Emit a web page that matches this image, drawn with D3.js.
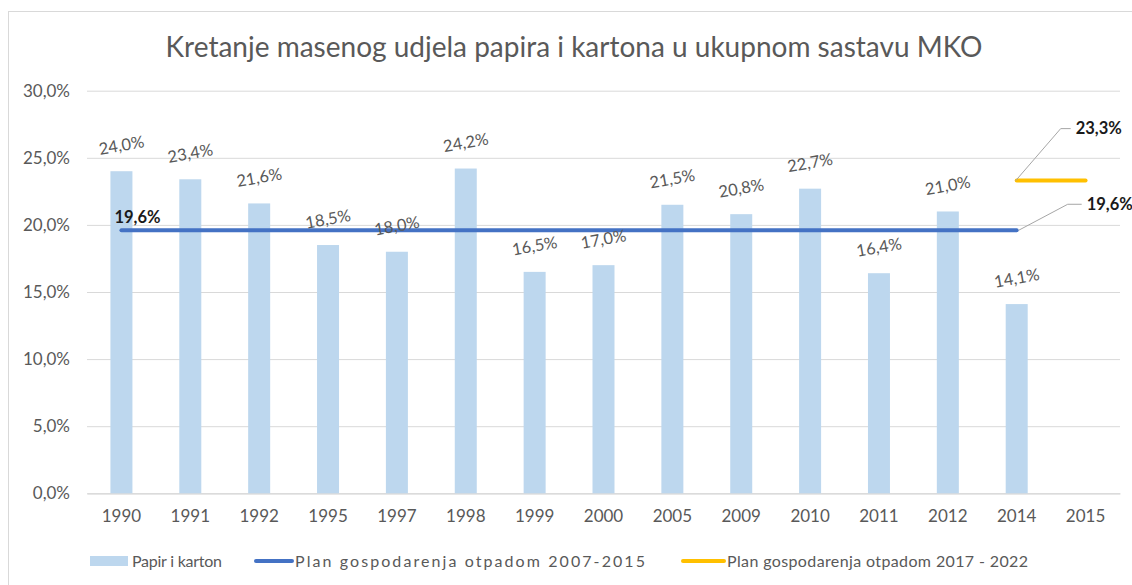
<!DOCTYPE html>
<html>
<head>
<meta charset="utf-8">
<script src="https://cdn.jsdelivr.net/npm/d3@7"></script>
<style>
    html, body { margin: 0; padding: 0; background: #fff; }
    text { font-family: Lato, 'Open Sans', sans-serif; }
</style>
</head>
<body>
<div id="chart"></div>
<script>
'use strict';

// ------------ DATA ---------------- //

const YEARS       = ['1990', '1991', '1992', '1995', '1997', '1998', '1999', '2000', '2005', '2009', '2010', '2011', '2012', '2014', '2015'];
const PAPER_SHARE = [24.0, 23.4, 21.6, 18.5, 18.0, 24.2, 16.5, 17.0, 21.5, 20.8, 22.7, 16.4, 21.0, 14.1, null];
const PLAN_2007   = [19.6, 19.6, 19.6, 19.6, 19.6, 19.6, 19.6, 19.6, 19.6, 19.6, 19.6, 19.6, 19.6, 19.6, null];
const PLAN_2017   = [null, null, null, null, null, null, null, null, null, null, null, null, null, 23.3, 23.3];
const Y_TICKS     = [0, 5, 10, 15, 20, 25, 30];
const TITLE       = 'Kretanje masenog udjela papira i kartona u ukupnom sastavu MKO';
const LEGEND      = ['Papir i karton', 'Plan gospodarenja otpadom 2007-2015', 'Plan gospodarenja otpadom 2017 - 2022'];

const COLORS = { bar: '#BDD7EE', plan1: '#4472C4', plan2: '#FFC000', text: '#595959', grid: '#D9D9D9' };

const fmt = v => v.toFixed(1).replace('.', ',') + '%';

// ---------------  DRAWING ------------- //

const drawChart = () => {
    const width  = 1132;
    const height = 585;
    const plot   = { left: 87, right: 1120, top: 90.7, bottom: 493.3 };

    const svg = d3.select('#chart')
        .append('svg')
        .attr('width', width)
        .attr('height', height);

    // outer frame
    svg.append('rect')
        .attr('x', 8.5).attr('y', 11.5)
        .attr('width', width).attr('height', height)
        .attr('fill', '#fff').attr('stroke', COLORS.grid);

    svg.append('text')
        .attr('x', 574).attr('y', 57)
        .attr('text-anchor', 'middle')
        .attr('font-size', 28)
        .attr('fill', COLORS.text)
        .text(TITLE);

    const x = d3.scaleBand().domain(YEARS).range([plot.left, plot.right]);
    const y = d3.scaleLinear().domain([0, 30]).range([plot.bottom, plot.top]);
    const cx = yr => x(yr) + x.bandwidth() / 2;

    // gridlines + y labels
    const yAxis = svg.append('g')
        .attr('transform', `translate(${plot.left},0)`)
        .call(d3.axisLeft(y).tickValues(Y_TICKS).tickSize(-(plot.right - plot.left)).tickPadding(17).tickFormat(fmt));
    yAxis.select('.domain').remove();
    yAxis.selectAll('line').attr('stroke', COLORS.grid);
    yAxis.selectAll('text').attr('fill', COLORS.text).attr('font-size', 17).attr('font-family', 'Lato');

    // x labels
    const xAxis = svg.append('g')
        .attr('transform', `translate(0,${plot.bottom})`)
        .call(d3.axisBottom(x).tickSize(0).tickPadding(17));
    xAxis.select('.domain').attr('stroke', COLORS.grid).attr('stroke-width', 1.2);
    xAxis.selectAll('text').attr('fill', COLORS.text).attr('font-size', 17).attr('font-family', 'Lato');

    // bars
    const barData = YEARS.map((yr, i) => ({ yr, v: PAPER_SHARE[i] })).filter(d => d.v !== null);
    const barW = 22;

    svg.append('g').selectAll('rect')
        .data(barData)
        .enter()
        .append('rect')
        .attr('x', d => cx(d.yr) - barW / 2)
        .attr('y', d => y(d.v))
        .attr('width', barW)
        .attr('height', d => plot.bottom - y(d.v))
        .attr('fill', COLORS.bar);

    // lines
    const line = d3.line()
        .defined(d => d.v !== null)
        .x(d => cx(d.yr))
        .y(d => y(d.v));

    const plan1 = YEARS.map((yr, i) => ({ yr, v: PLAN_2007[i] }));
    const plan2 = YEARS.map((yr, i) => ({ yr, v: PLAN_2017[i] }));

    svg.append('path').datum(plan1).attr('d', line)
        .attr('fill', 'none').attr('stroke', COLORS.plan1).attr('stroke-width', 4).attr('stroke-linecap', 'round');
    svg.append('path').datum(plan2).attr('d', line)
        .attr('fill', 'none').attr('stroke', COLORS.plan2).attr('stroke-width', 4).attr('stroke-linecap', 'round');

    // bar value labels (slightly tilted)
    svg.append('g').selectAll('text')
        .data(barData)
        .enter()
        .append('text')
        .attr('transform', d => `translate(${cx(d.yr)},${y(d.v) - 26}) rotate(-10)`)
        .attr('text-anchor', 'middle')
        .attr('dy', '0.35em')
        .attr('font-size', 16.5)
        .attr('fill', COLORS.text)
        .text(d => fmt(d.v));

    // plan labels
    const p1 = plan1.filter(d => d.v !== null);
    const p2 = plan2.filter(d => d.v !== null);
    const first1 = p1[0], last1 = p1[p1.length - 1], first2 = p2[0];

    svg.append('text')
        .attr('x', cx(first1.yr) - 7).attr('y', y(first1.v) - 7)
        .attr('font-size', 16.5).attr('font-weight', 'bold').attr('fill', '#1a1a1a')
        .text(fmt(first1.v));

    const leader = (x0, y0, dx, dy, len, label) => {
        svg.append('polyline')
            .attr('points', `${x0},${y0} ${x0 + dx},${y0 - dy} ${x0 + dx + len},${y0 - dy}`)
            .attr('fill', 'none').attr('stroke', '#A6A6A6').attr('stroke-width', 1);
        svg.append('text')
            .attr('x', x0 + dx + len + 5).attr('y', y0 - dy)
            .attr('dy', '0.35em')
            .attr('font-size', 16.5).attr('font-weight', 'bold').attr('fill', '#1a1a1a')
            .text(label);
    };
    leader(cx(last1.yr) + 2, y(last1.v), 49, 26, 14, fmt(last1.v));
    leader(cx(first2.yr) - 1, y(first2.v), 45, 52, 10, fmt(first2.v));

    // legend
    const lg = svg.append('g').attr('transform', 'translate(0,561)');
    lg.append('rect').attr('x', 90).attr('y', -5).attr('width', 38).attr('height', 10).attr('fill', COLORS.bar);
    lg.append('line').attr('x1', 256).attr('x2', 292).attr('y1', 0).attr('y2', 0)
        .attr('stroke', COLORS.plan1).attr('stroke-width', 4).attr('stroke-linecap', 'round');
    lg.append('line').attr('x1', 683).attr('x2', 724).attr('y1', 0).attr('y2', 0)
        .attr('stroke', COLORS.plan2).attr('stroke-width', 4).attr('stroke-linecap', 'round');
    [[132, LEGEND[0], 90], [295, LEGEND[1], 350], [727, LEGEND[2], 301]].forEach(([lx, label, len]) => {
        lg.append('text').attr('x', lx).attr('y', 0).attr('dy', '0.35em')
            .attr('font-size', 16).attr('fill', COLORS.text)
            .attr('textLength', len).attr('lengthAdjust', 'spacing')
            .text(label);
    });
};

// --------------------   MAIN   ------------------- //

document.addEventListener('DOMContentLoaded', drawChart);
</script>
</body>
</html>
